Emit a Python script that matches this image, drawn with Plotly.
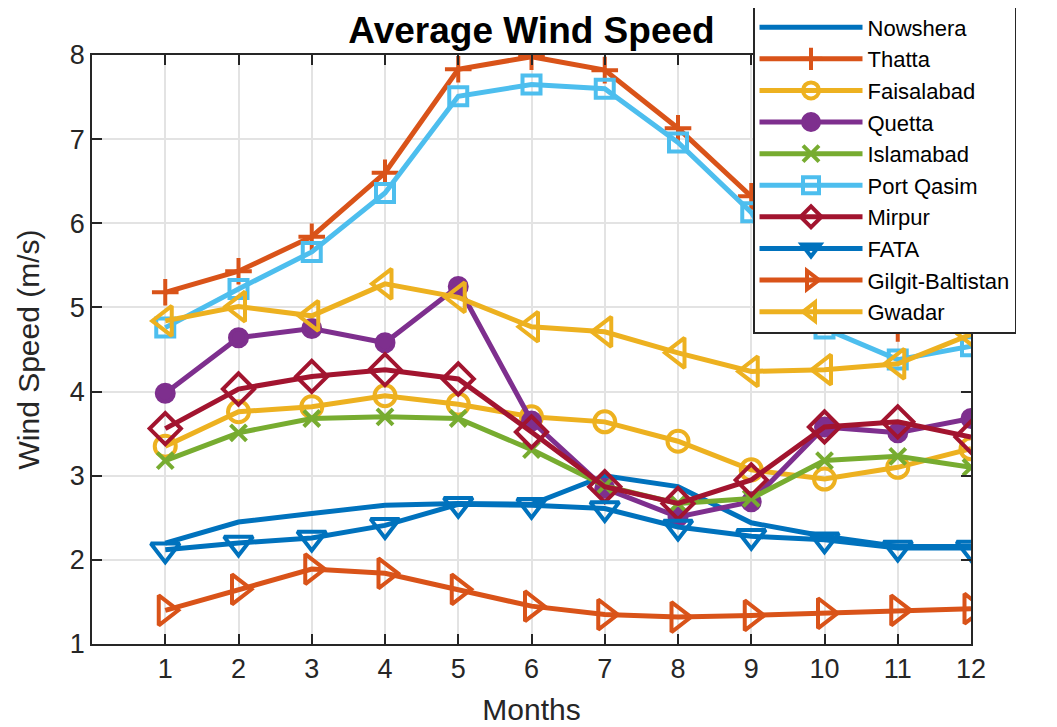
import plotly.graph_objects as go

months = list(range(1, 13))

nowshera = [2.20, 2.45, 2.55, 2.65, 2.67, 2.66, 3.00, 2.87, 2.44, 2.28, 2.16, 2.16]
thatta = [5.18, 5.43, 5.84, 6.60, 7.83, 7.98, 7.82, 7.13, 6.32, 5.30, 4.75, 5.00]
faisalabad = [3.35, 3.76, 3.82, 3.95, 3.85, 3.70, 3.64, 3.41, 3.07, 2.96, 3.10, 3.32]
quetta = [3.98, 4.64, 4.75, 4.58, 5.25, 3.65, 2.85, 2.51, 2.69, 3.58, 3.51, 3.68]
islamabad = [3.18, 3.51, 3.68, 3.70, 3.68, 3.31, 2.88, 2.67, 2.73, 3.18, 3.23, 3.10]
port_qasim = [4.76, 5.22, 5.66, 6.36, 7.51, 7.65, 7.60, 6.96, 6.13, 4.75, 4.38, 4.54]
mirpur = [3.56, 4.03, 4.18, 4.26, 4.15, 3.52, 2.87, 2.67, 2.95, 3.58, 3.64, 3.46]
fata = [2.12, 2.20, 2.26, 2.41, 2.66, 2.65, 2.61, 2.39, 2.28, 2.24, 2.14, 2.14]
gilgit = [1.40, 1.65, 1.89, 1.84, 1.65, 1.45, 1.35, 1.32, 1.34, 1.365, 1.40, 1.42]
gwadar = [4.84, 5.01, 4.90, 5.28, 5.12, 4.77, 4.71, 4.46, 4.24, 4.26, 4.33, 4.68]

names = ["Nowshera", "Thatta", "Faisalabad", "Quetta", "Islamabad", "Port Qasim",
         "Mirpur", "FATA", "Gilgit-Baltistan", "Gwadar"]
series = [nowshera, thatta, faisalabad, quetta, islamabad, port_qasim,
          mirpur, fata, gilgit, gwadar]
colors = ["#0072BD", "#D95319", "#EDB120", "#7E2F8E", "#77AC30", "#4DBEEE",
          "#A2142F", "#0072BD", "#D95319", "#EDB120"]
symbols = [None, "cross-thin-open", "circle-open", "circle", "x-thin-open",
           "square-open", "diamond-open", "triangle-down-open",
           "triangle-right-open", "triangle-left-open"]
sizes = [0, 19, 21, 17, 16, 18, 24, 25, 26, 26]

fig = go.Figure()
for name, ys, col, sym, sz in zip(names, series, colors, symbols, sizes):
    if sym is None:
        fig.add_trace(go.Scatter(x=months, y=ys, name=name, mode="lines",
                                 line=dict(color=col, width=5)))
    else:
        fig.add_trace(go.Scatter(x=months, y=ys, name=name, mode="lines+markers",
                                 line=dict(color=col, width=5),
                                 marker=dict(symbol=sym, size=sz, color=col,
                                             line=dict(color=col, width=4))))

axis_common = dict(showline=True, linecolor="#262626", linewidth=1.5, mirror="ticks",
                   ticks="inside", ticklen=10, tickcolor="#262626", tickwidth=1.5,
                   showgrid=True, gridcolor="#e3e3e3", gridwidth=1.5, zeroline=False,
                   automargin=False,
                   tickfont=dict(family="Liberation Sans, Arial", size=27, color="#262626"))

fig.update_layout(
    width=1049, height=719,
    margin=dict(l=84, r=86, t=47, b=83, autoexpand=False),
    paper_bgcolor="white", plot_bgcolor="white",
    title=dict(text="<b>Average Wind Speed</b>", x=0.5, xref="paper", xanchor="center",
               y=0.9694, yref="container", yanchor="middle",
               font=dict(family="Liberation Sans, Arial", size=37, color="black")),
    xaxis=dict(range=[0, 12], tickvals=months, ticktext=[str(m) for m in months],
               title=dict(text="Months", standoff=16,
                          font=dict(family="Liberation Sans, Arial", size=30, color="#262626")),
               **axis_common),
    yaxis=dict(range=[1, 8], tickvals=list(range(1, 9)),
               title=dict(text="Wind Speed (m/s)", standoff=21,
                          font=dict(family="Liberation Sans, Arial", size=30, color="#262626")),
               **axis_common),
    legend=dict(x=0.752, y=1.085, xanchor="left", yanchor="top",
                bgcolor="white", bordercolor="#262626", borderwidth=1.5,
                font=dict(family="Liberation Sans, Arial", size=22, color="black"),
                itemwidth=103, tracegroupgap=0),
    showlegend=True,
)

fig.write_html("out.html")
